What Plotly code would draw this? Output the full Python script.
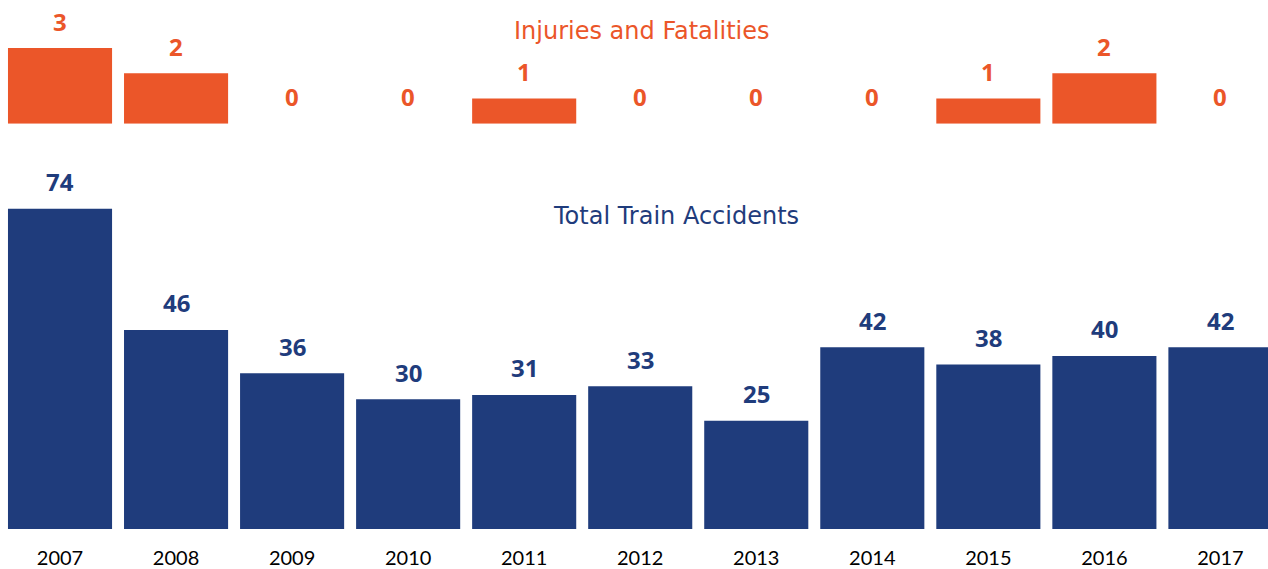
import plotly.graph_objects as go

years = ["2007", "2008", "2009", "2010", "2011", "2012", "2013", "2014", "2015", "2016", "2017"]
injuries = [3, 2, 0, 0, 1, 0, 0, 0, 1, 2, 0]
accidents = [74, 46, 36, 30, 31, 33, 25, 42, 38, 40, 42]

ORANGE = "#EB5629"
NAVY = "#1F3C7C"
TITLE_FONT = "DejaVu Sans"
VALUE_FONT = "Noto Sans"
TICK_FONT = "Lato"

fig = go.Figure()
fig.add_trace(go.Bar(x=years, y=accidents, marker=dict(color=NAVY, line=dict(width=0)),
                     xaxis="x", yaxis="y", hoverinfo="x+y", showlegend=False))
fig.add_trace(go.Bar(x=years, y=injuries, marker=dict(color=ORANGE, line=dict(width=0)),
                     xaxis="x2", yaxis="y2", hoverinfo="x+y", showlegend=False))

annotations = []
for i, v in enumerate(accidents):
    annotations.append(dict(x=i, y=v, xref="x", yref="y", text="<b>%d</b>" % v, showarrow=False,
                            xanchor="center", yanchor="middle", yshift=27,
                            font=dict(family=VALUE_FONT, size=24, color=NAVY)))
for i, v in enumerate(injuries):
    annotations.append(dict(x=i, y=v, xref="x2", yref="y2", text="<b>%d</b>" % v, showarrow=False,
                            xanchor="center", yanchor="middle", yshift=27,
                            font=dict(family=VALUE_FONT, size=24, color=ORANGE)))
annotations.append(dict(x=640 / 1266, y=1 - 31 / 531, xref="paper", yref="paper",
                        text="Injuries and Fatalities", showarrow=False,
                        xanchor="center", yanchor="middle",
                        font=dict(family=TITLE_FONT, size=24, color=ORANGE)))
annotations.append(dict(x=674 / 1266, y=1 - 217 / 531, xref="paper", yref="paper",
                        text="Total Train Accidents", showarrow=False,
                        xanchor="center", yanchor="middle",
                        font=dict(family=TITLE_FONT, size=24, color=NAVY)))

xr = [-0.5, 10.41]
fig.update_layout(
    width=1268, height=569,
    margin=dict(l=2, r=0, t=0, b=38),
    paper_bgcolor="white", plot_bgcolor="white",
    bargap=0.103,
    xaxis=dict(type="category", domain=[0, 1], range=xr, anchor="y", showgrid=False, zeroline=False,
               showline=False, ticks="outside", ticklen=11, tickcolor="rgba(0,0,0,0)",
               tickfont=dict(family=TICK_FONT, size=20, color="black"), fixedrange=True),
    yaxis=dict(domain=[0, 0.678], range=[0, 82.9], visible=False, fixedrange=True),
    xaxis2=dict(type="category", domain=[0, 1], range=xr, anchor="y2", visible=False, fixedrange=True),
    yaxis2=dict(domain=[0.766, 1], range=[0, 4.9], visible=False, fixedrange=True),
    annotations=annotations,
)

fig.write_html("out.html", config={"displayModeBar": False},
               post_script="document.body.style.margin='0';document.body.style.overflow='hidden';")
